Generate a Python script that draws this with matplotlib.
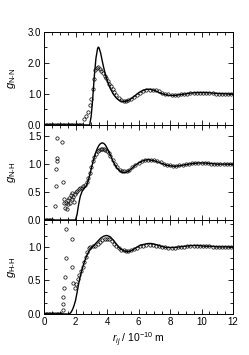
import matplotlib
matplotlib.use('Agg')
import matplotlib.pyplot as plt
from matplotlib.ticker import MultipleLocator, AutoMinorLocator

plt.rcParams['font.family'] = ['Liberation Sans', 'DejaVu Sans']
plt.rcParams['mathtext.fontset'] = 'custom'
plt.rcParams['mathtext.rm'] = 'Liberation Sans'
plt.rcParams['mathtext.it'] = 'Liberation Sans:italic'

# ---- N-N ----
nn_line_r = [0, 2.9, 3.0, 3.1, 3.2, 3.3, 3.4, 3.45, 3.5, 3.6, 3.7, 3.8, 3.9, 4.0, 4.2, 4.4, 4.6,
             4.8, 5.0, 5.2, 5.4, 5.6, 5.8, 6.0, 6.2, 6.4, 6.6, 6.8, 7.0, 7.2, 7.4, 7.6, 7.8, 8.0,
             8.3, 8.6, 9.0, 9.4, 9.8, 10.2, 10.6, 11.0, 11.5, 12.0]
nn_line_g = [0, 0, 0.3, 0.9, 1.6, 2.15, 2.45, 2.5, 2.47, 2.3, 2.05, 1.82, 1.62, 1.45, 1.18, 0.99,
             0.86, 0.78, 0.75, 0.76, 0.8, 0.87, 0.95, 1.03, 1.09, 1.13, 1.15, 1.14, 1.11, 1.07,
             1.02, 0.99, 0.96, 0.95, 0.95, 0.97, 1.0, 1.03, 1.04, 1.04, 1.03, 1.01, 1.0, 1.0]
nn_pts_r = [0.0, 0.1, 0.2, 0.3, 0.4, 0.5, 0.6, 0.7, 0.8, 0.9, 1.0, 1.1, 1.2, 1.3, 1.4, 1.5, 1.6,
            1.7, 1.8, 1.9, 2.0, 2.1, 2.2, 2.3, 2.4, 2.55, 2.68, 2.8, 2.9, 3.0, 3.08, 3.15, 3.25,
            3.35, 3.45, 3.55, 3.65, 3.75, 3.85, 3.95, 4.05, 4.15, 4.25, 4.35, 4.45, 4.6, 4.75,
            4.9, 5.05, 5.2, 5.35, 5.5, 5.7, 5.9, 6.1, 6.3, 6.5, 6.7, 6.9, 7.1, 7.3, 7.5, 7.7,
            7.9, 8.1, 8.3, 8.5, 8.7, 8.9, 9.1, 9.3, 9.5, 9.7, 9.9, 10.1, 10.3, 10.5, 10.7, 10.9,
            11.1, 11.3, 11.5, 11.7, 11.9]
nn_pts_g = [0, 0, 0, 0, 0, 0, 0, 0, 0, 0, 0, 0, 0, 0, 0, 0, 0,
            0, 0, 0, 0, 0, 0, 0, 0, 0.18, 0.29, 0.43, 0.64, 0.82, 1.14, 1.49, 1.78,
            1.84, 1.85, 1.81, 1.74, 1.66, 1.58, 1.5, 1.42, 1.33, 1.24, 1.15, 1.06, 0.96, 0.87,
            0.81, 0.78, 0.78, 0.8, 0.84, 0.9, 0.97, 1.03, 1.08, 1.11, 1.13, 1.13, 1.11, 1.08,
            1.04, 1.01, 0.98, 0.97, 0.97, 0.97, 0.98, 0.99, 1.01, 1.02, 1.03, 1.04, 1.04, 1.04,
            1.03, 1.02, 1.02, 1.01, 1.01, 1.0, 1.0, 1.0, 1.0]

# ---- N-H ----
nh_line_r = [0, 2.0, 2.1, 2.2, 2.3, 2.4, 2.5, 2.6, 2.7, 2.8, 2.9, 3.0, 3.1, 3.2, 3.3, 3.4, 3.5,
             3.6, 3.7, 3.8, 3.9, 4.0, 4.2, 4.4, 4.6, 4.8, 5.0, 5.2, 5.4, 5.6, 5.8, 6.0, 6.2,
             6.4, 6.6, 6.8, 7.0, 7.2, 7.4, 7.6, 7.8, 8.0, 8.3, 8.6, 9.0, 9.4, 9.8, 10.2, 10.6,
             11.0, 11.5, 12.0]
nh_line_g = [0, 0, 0.1, 0.28, 0.42, 0.5, 0.55, 0.58, 0.62, 0.7, 0.8, 0.92, 1.03, 1.13, 1.22,
             1.29, 1.34, 1.37, 1.38, 1.37, 1.34, 1.29, 1.17, 1.04, 0.94, 0.88, 0.85, 0.85, 0.88,
             0.93, 0.98, 1.02, 1.05, 1.07, 1.08, 1.07, 1.06, 1.04, 1.02, 1.0, 0.98, 0.97, 0.96,
             0.97, 0.99, 1.01, 1.02, 1.02, 1.01, 1.0, 1.0, 1.0]
nh_pts_r = [0.0, 0.1, 0.2, 0.3, 0.4, 0.5, 0.7, 0.74, 0.74, 0.8, 0.8, 0.85, 1.16, 1.19, 1.25,
            1.3, 1.35, 1.4, 1.45, 1.5, 1.55, 1.6, 1.65, 1.7, 1.75, 1.8, 1.85, 1.9, 1.95, 2.0,
            2.1, 2.2, 2.3, 2.4, 2.5, 2.6, 2.7, 2.8, 2.9, 3.0, 3.1, 3.2, 3.3, 3.4, 3.5, 3.6, 3.7,
            3.8, 3.9, 4.0, 4.1, 4.2, 4.35, 4.5, 4.65, 4.8, 4.95, 5.1, 5.25, 5.4, 5.6, 5.8, 6.0,
            6.2, 6.4, 6.6, 6.8, 7.0, 7.2, 7.4, 7.6, 7.8, 8.0, 8.2, 8.4, 8.6, 8.8, 9.0, 9.2, 9.4,
            9.6, 9.8, 10.0, 10.2, 10.4, 10.6, 10.8, 11.0, 11.2, 11.4, 11.6, 11.8, 12.0]
nh_pts_g = [0, 0, 0, 0, 0, 0, 0.25, 0.61, 0.92, 1.06, 1.11, 1.46, 1.40, 0.68, 0.38,
            0.3, 0.22, 0.3, 0.2, 0.35, 0.28, 0.4, 0.3, 0.45, 0.38, 0.48, 0.42, 0.33, 0.47, 0.5,
            0.52, 0.55, 0.57, 0.58, 0.6, 0.63, 0.68, 0.76, 0.85, 0.95, 1.05, 1.13, 1.19, 1.23,
            1.26, 1.27, 1.27, 1.27, 1.26, 1.24, 1.2, 1.15, 1.08, 1.0, 0.94, 0.9, 0.88, 0.87,
            0.88, 0.9, 0.94, 0.98, 1.02, 1.05, 1.07, 1.08, 1.08, 1.07, 1.05, 1.03, 1.01, 0.99,
            0.98, 0.97, 0.97, 0.98, 0.99, 1.0, 1.01, 1.02, 1.02, 1.02, 1.02, 1.02, 1.02, 1.01,
            1.01, 1.0, 1.0, 1.0, 1.0, 1.0, 1.0]

# ---- H-H ----
hh_line_r = [0, 1.6, 1.7, 1.8, 1.9, 2.0, 2.1, 2.2, 2.3, 2.4, 2.5, 2.6, 2.7, 2.8, 2.9, 3.0, 3.2,
             3.4, 3.6, 3.8, 4.0, 4.2, 4.4, 4.6, 4.8, 5.0, 5.2, 5.4, 5.6, 5.8, 6.0, 6.2, 6.4,
             6.6, 6.8, 7.0, 7.2, 7.4, 7.6, 7.8, 8.0, 8.3, 8.6, 9.0, 9.4, 9.8, 10.2, 10.6, 11.0,
             11.5, 12.0]
hh_line_g = [0, 0, 0.02, 0.06, 0.12, 0.2, 0.32, 0.45, 0.56, 0.65, 0.73, 0.8, 0.86, 0.91, 0.95,
             0.98, 1.03, 1.08, 1.13, 1.16, 1.17, 1.15, 1.1, 1.04, 0.98, 0.95, 0.93, 0.93, 0.95,
             0.98, 1.01, 1.03, 1.04, 1.05, 1.05, 1.04, 1.03, 1.01, 1.0, 0.99, 0.99, 0.99, 1.0,
             1.01, 1.02, 1.02, 1.01, 1.01, 1.0, 1.0, 1.0]
hh_pts_r = [0.0, 0.1, 0.2, 0.3, 0.4, 0.5, 0.6, 0.7, 0.8, 0.9, 1.0, 1.1, 1.19, 1.23, 1.23, 1.29,
            1.33, 1.38, 1.40, 1.80, 1.80, 1.86, 1.97, 2.05, 2.15, 2.25, 2.35, 2.45, 2.55, 2.65,
            2.75, 2.85, 2.95, 3.1, 3.25, 3.4, 3.55, 3.7, 3.85, 4.0, 4.15, 4.3, 4.45, 4.6, 4.75,
            4.9, 5.05, 5.2, 5.35, 5.5, 5.7, 5.9, 6.1, 6.3, 6.5, 6.7, 6.9, 7.1, 7.3, 7.5, 7.7,
            7.9, 8.1, 8.3, 8.5, 8.7, 8.9, 9.1, 9.3, 9.5, 9.7, 9.9, 10.1, 10.3, 10.5, 10.7, 10.9,
            11.1, 11.3, 11.5, 11.7, 11.9]
hh_pts_g = [0, 0, 0, 0, 0, 0, 0, 0, 0, 0, 0, 0, 0.06, 0.15, 0.25, 0.38,
            0.55, 0.83, 1.27, 1.11, 0.70, 0.46, 0.38, 0.44, 0.52, 0.58, 0.64, 0.7, 0.77, 0.85,
            0.93, 0.98, 1.0, 1.01, 1.02, 1.04, 1.07, 1.1, 1.12, 1.12, 1.11, 1.08, 1.05, 1.01,
            0.98, 0.96, 0.95, 0.94, 0.94, 0.95, 0.97, 0.99, 1.01, 1.02, 1.03, 1.03, 1.03, 1.02,
            1.01, 1.0, 1.0, 0.99, 0.99, 0.99, 1.0, 1.0, 1.0, 1.01, 1.01, 1.01, 1.01, 1.01, 1.01,
            1.01, 1.01, 1.0, 1.0, 1.0, 1.0, 1.0, 1.0, 1.0]

panels = [
    (nn_line_r, nn_line_g, nn_pts_r, nn_pts_g, r'$g_{\text{N-N}}$', 3.0, 1.0, 2),
    (nh_line_r, nh_line_g, nh_pts_r, nh_pts_g, r'$g_{\text{N-H}}$', 1.7, 0.5, 2),
    (hh_line_r, hh_line_g, hh_pts_r, hh_pts_g, r'$g_{\text{H-H}}$', 1.4, 0.5, 3),
]

fig = plt.figure(figsize=(2.49, 3.55), dpi=100)
left, width = 44 / 249, 189 / 249
tops = [31.5, 125, 220]
bottoms = [125, 220, 314]

for i, (lr, lg, pr, pg, lab, ytop, ymaj, nmin) in enumerate(panels):
    y0 = 1 - bottoms[i] / 355
    h = (bottoms[i] - tops[i]) / 355
    ax = fig.add_axes([left, y0, width, h])
    ax.plot(pr, pg, 'o', mfc='none', mec='black', ms=2.4, mew=0.5, zorder=2)
    ax.plot(lr, lg, '-', color='black', lw=1.0, zorder=3)
    ax.set_xlim(0, 12)
    ax.set_ylim(0, ytop)
    ax.xaxis.set_major_locator(MultipleLocator(2))
    ax.xaxis.set_minor_locator(MultipleLocator(0.5))
    ax.yaxis.set_major_locator(MultipleLocator(ymaj))
    ax.yaxis.set_minor_locator(AutoMinorLocator(nmin))
    ax.yaxis.set_major_formatter(plt.FormatStrFormatter('%.1f'))
    ax.tick_params(which='both', direction='in', top=True, right=True, labelsize=7, pad=2,
                   width=0.6)
    ax.tick_params(which='major', length=3.5)
    ax.tick_params(which='minor', length=2)
    for s in ax.spines.values():
        s.set_linewidth(0.7)
    ax.set_ylabel(lab, fontsize=8)
    ax.yaxis.set_label_coords(-0.14, 0.5)
    if i < 2:
        ax.tick_params(labelbottom=False)
    else:
        ax.set_xlabel(r'$r_{ij}$ / 10$^{-10}$ m', fontsize=7.5, labelpad=3)

fig.savefig('out.png', dpi=100)
